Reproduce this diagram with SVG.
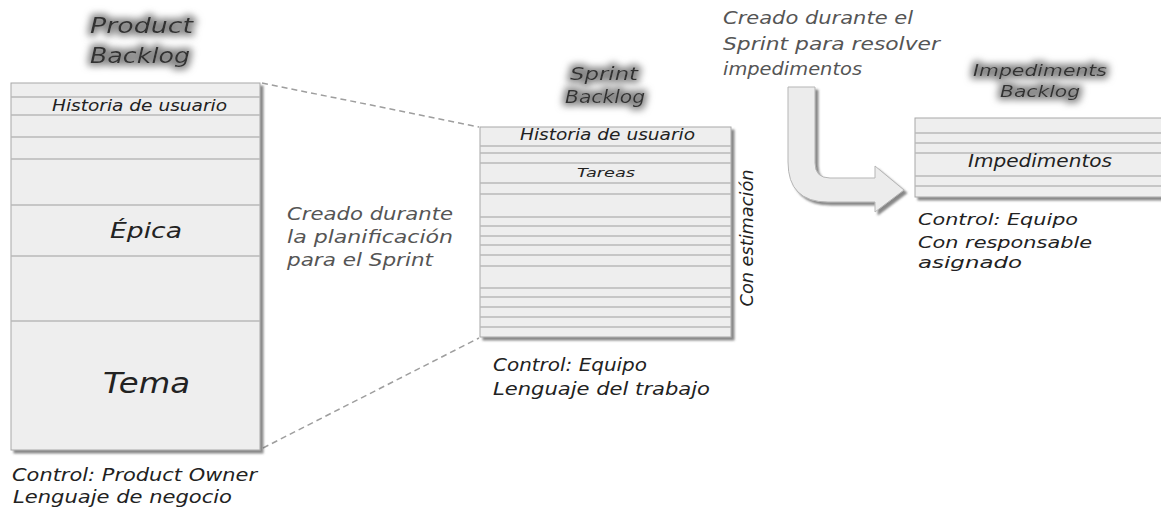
<svg xmlns="http://www.w3.org/2000/svg" width="1161" height="513" viewBox="0 0 1161 513">
<defs>
<filter id="shadow" x="-5%" y="-5%" width="115%" height="115%">
<feDropShadow dx="3" dy="3" stdDeviation="1.2" flood-color="#555" flood-opacity="0.7"/>
</filter>
<filter id="glow" x="-20%" y="-50%" width="140%" height="200%">
<feMorphology in="SourceAlpha" operator="dilate" radius="2.5" result="d"/>
<feGaussianBlur in="d" stdDeviation="3.5" result="b"/>
<feFlood flood-color="#8a8a8a"/>
<feComposite in2="b" operator="in" result="g"/>
<feMerge><feMergeNode in="g"/><feMergeNode in="SourceGraphic"/></feMerge>
</filter>
</defs>
<style>
.box{fill:#eeeeee;stroke:#a8a8a8;stroke-width:1}
.rule{stroke:#b9b9b9;stroke-width:1.4}
.hand{font-family:"DejaVu Sans","Liberation Sans",sans-serif;font-style:italic;fill:#222}
.note{font-family:"DejaVu Sans","Liberation Sans",sans-serif;font-style:italic;fill:#555;font-size:17px}
.title{font-family:"DejaVu Sans","Liberation Sans",sans-serif;font-style:italic;fill:#333;filter:url(#glow)}
.dash{stroke:#9e9e9e;stroke-width:1.5;stroke-dasharray:6 4;fill:none}
</style>
<rect width="1161" height="513" fill="#fff"/>

<g id="connectors">
<line class="dash" x1="262" y1="83" x2="479" y2="127"/>
<line class="dash" x1="263" y1="448" x2="479" y2="338"/>
<path id="arrow" d="M788,87 L815,87 L815,163 Q815,178 830,178 L875,178 L875,166 L904,190 L875,212 L875,202 L828,202 Q788,202 788,162 Z" fill="#ececec" stroke="#b5b5b5" stroke-width="1" filter="url(#shadow)"/>
</g>

<g id="product-backlog">
<text class="title" font-size="22" x="90" y="33" textLength="103" lengthAdjust="spacingAndGlyphs">Product</text>
<text class="title" font-size="22" x="90" y="63" textLength="100" lengthAdjust="spacingAndGlyphs">Backlog</text>
<rect class="box" x="11" y="83" width="249" height="367" filter="url(#shadow)"/>
<g class="rule">
<line x1="11" y1="97" x2="260" y2="97"/>
<line x1="11" y1="115" x2="260" y2="115"/>
<line x1="11" y1="137" x2="260" y2="137"/>
<line x1="11" y1="159" x2="260" y2="159"/>
<line x1="11" y1="205" x2="260" y2="205"/>
<line x1="11" y1="256" x2="260" y2="256"/>
<line x1="11" y1="321" x2="260" y2="321"/>
</g>
<text class="hand" font-size="15" x="52" y="111" textLength="175" lengthAdjust="spacingAndGlyphs">Historia de usuario</text>
<text class="hand" font-size="21" x="110" y="238" textLength="72" lengthAdjust="spacingAndGlyphs">Épica</text>
<text class="hand" font-size="28" x="103" y="393" textLength="87" lengthAdjust="spacingAndGlyphs">Tema</text>
<text class="hand" font-size="17" x="12" y="481" textLength="245" lengthAdjust="spacingAndGlyphs">Control: Product Owner</text>
<text class="hand" font-size="17" x="13" y="503" textLength="219" lengthAdjust="spacingAndGlyphs">Lenguaje de negocio</text>
</g>

<g id="planning-note">
<text class="note" x="287" y="220" textLength="166" lengthAdjust="spacingAndGlyphs">Creado durante</text>
<text class="note" x="287" y="243" textLength="166" lengthAdjust="spacingAndGlyphs">la planificación</text>
<text class="note" x="287" y="266" textLength="146" lengthAdjust="spacingAndGlyphs">para el Sprint</text>
</g>

<g id="sprint-backlog">
<text class="title" font-size="18" x="570" y="80" textLength="68" lengthAdjust="spacingAndGlyphs">Sprint</text>
<text class="title" font-size="18" x="565" y="103" textLength="80" lengthAdjust="spacingAndGlyphs">Backlog</text>
<rect class="box" x="480" y="127" width="251" height="210" filter="url(#shadow)"/>
<g class="rule">
<line x1="480" y1="146" x2="731" y2="146"/>
<line x1="480" y1="153" x2="731" y2="153"/>
<line x1="480" y1="163" x2="731" y2="163"/>
<line x1="480" y1="183" x2="731" y2="183"/>
<line x1="480" y1="194" x2="731" y2="194"/>
<line x1="480" y1="217" x2="731" y2="217"/>
<line x1="480" y1="226" x2="731" y2="226"/>
<line x1="480" y1="236" x2="731" y2="236"/>
<line x1="480" y1="245" x2="731" y2="245"/>
<line x1="480" y1="255" x2="731" y2="255"/>
<line x1="480" y1="266" x2="731" y2="266"/>
<line x1="480" y1="288" x2="731" y2="288"/>
<line x1="480" y1="297" x2="731" y2="297"/>
<line x1="480" y1="307" x2="731" y2="307"/>
<line x1="480" y1="317" x2="731" y2="317"/>
<line x1="480" y1="327" x2="731" y2="327"/>
</g>
<text class="hand" font-size="15" x="520" y="140" textLength="175" lengthAdjust="spacingAndGlyphs">Historia de usuario</text>
<text class="hand" font-size="13" x="577" y="177" textLength="58" lengthAdjust="spacingAndGlyphs">Tareas</text>
<text class="hand" font-size="17" transform="translate(753,238) rotate(-90)" text-anchor="middle" textLength="137" lengthAdjust="spacingAndGlyphs">Con estimación</text>
<text class="hand" font-size="17" x="493" y="371" textLength="154" lengthAdjust="spacingAndGlyphs">Control: Equipo</text>
<text class="hand" font-size="17" x="493" y="395" textLength="217" lengthAdjust="spacingAndGlyphs">Lenguaje del trabajo</text>
</g>

<g id="impediments-note">
<text class="note" x="723" y="24" textLength="190" lengthAdjust="spacingAndGlyphs">Creado durante el</text>
<text class="note" x="723" y="50" textLength="217" lengthAdjust="spacingAndGlyphs">Sprint para resolver</text>
<text class="note" x="723" y="75" textLength="139" lengthAdjust="spacingAndGlyphs">impedimentos</text>
</g>

<g id="impediments-backlog">
<text class="title" font-size="16" x="973" y="76" textLength="134" lengthAdjust="spacingAndGlyphs">Impediments</text>
<text class="title" font-size="16" x="1000" y="97" textLength="80" lengthAdjust="spacingAndGlyphs">Backlog</text>
<rect class="box" x="915" y="118" width="260" height="79" filter="url(#shadow)"/>
<g class="rule">
<line x1="915" y1="133" x2="1161" y2="133"/>
<line x1="915" y1="143" x2="1161" y2="143"/>
<line x1="915" y1="153" x2="1161" y2="153"/>
<line x1="915" y1="176" x2="1161" y2="176"/>
<line x1="915" y1="186" x2="1161" y2="186"/>
</g>
<text class="hand" font-size="17" x="968" y="167" textLength="144" lengthAdjust="spacingAndGlyphs">Impedimentos</text>
<text class="hand" font-size="16" x="918" y="225" textLength="160" lengthAdjust="spacingAndGlyphs">Control: Equipo</text>
<text class="hand" font-size="16" x="918" y="248" textLength="174" lengthAdjust="spacingAndGlyphs">Con responsable</text>
<text class="hand" font-size="16" x="918" y="268" textLength="104" lengthAdjust="spacingAndGlyphs">asignado</text>
</g>
</svg>
